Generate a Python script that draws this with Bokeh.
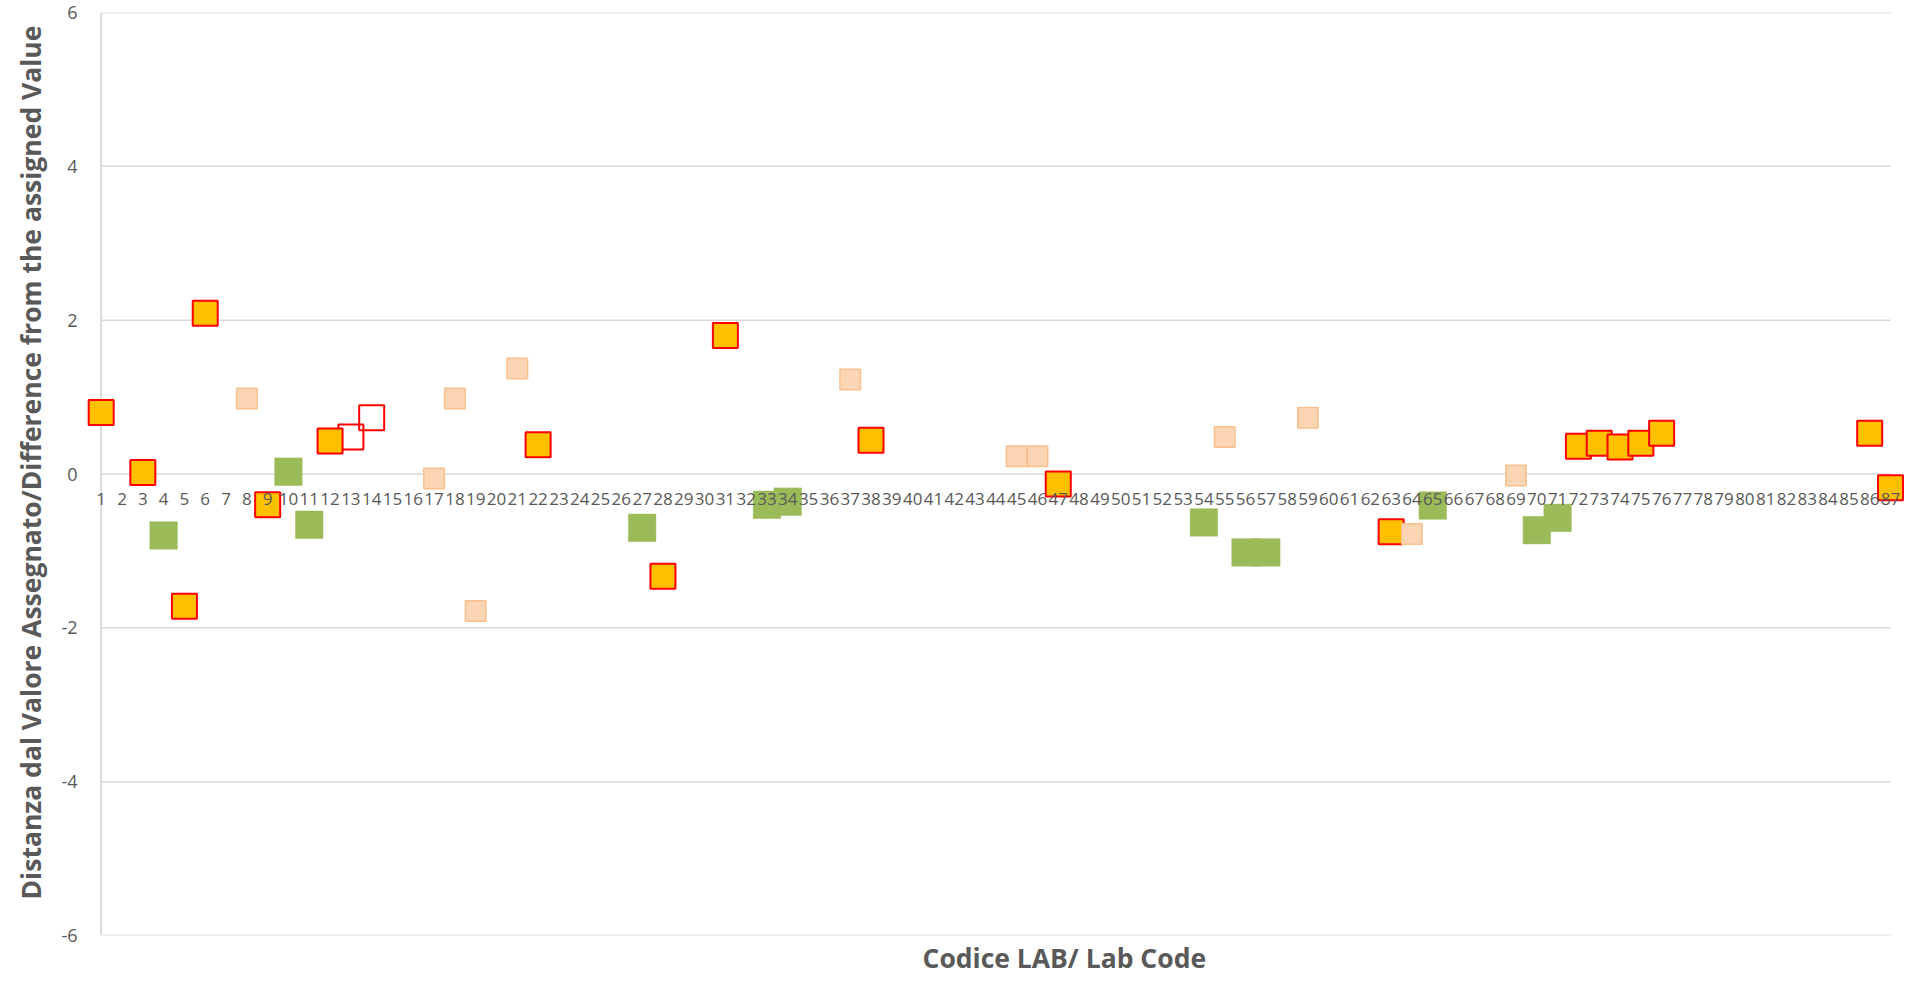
from bokeh.plotting import figure
from bokeh.models import Range1d, FixedTicker, Title
from bokeh.embed import file_html
from bokeh.resources import INLINE

# ---- data ----
lab_codes = list(range(1, 88))
y_ticks = [-6, -4, -2, 0, 2, 4, 6]

orange_lab = [1, 3, 5, 6, 9, 12, 22, 28, 31, 38, 47, 63, 72, 73, 74, 75, 76, 86, 87]
orange_val = [0.80, 0.02, -1.72, 2.09, -0.40, 0.43, 0.38, -1.33, 1.80, 0.44, -0.13,
              -0.75, 0.36, 0.40, 0.35, 0.40, 0.53, 0.53, -0.18]

peach_lab = [8, 17, 18, 19, 21, 37, 45, 46, 55, 59, 64, 69]
peach_val = [0.98, -0.06, 0.98, -1.78, 1.37, 1.23, 0.23, 0.23, 0.48, 0.73, -0.78, -0.02]

green_lab = [4, 10, 11, 27, 33, 34, 54, 56, 57, 65, 70, 71]
green_val = [-0.80, 0.03, -0.66, -0.70, -0.40, -0.36, -0.63, -1.02, -1.02, -0.41, -0.73, -0.57]

hollow_lab = [13, 14]
hollow_val = [0.48, 0.73]

x_title = "Codice LAB/ Lab Code"
y_title = "Distanza dal Valore Assegnato/Difference from the assigned Value"

TEXT = "#595959"
GRID = "#D9D9D9"
FONT = "Open Sans"

p = figure(width=1910, height=980, output_backend="svg", toolbar_location=None,
           x_range=Range1d(0.2935, 87.769), y_range=Range1d(-6, 6),
           min_border_left=86, min_border_right=4, min_border_top=12, min_border_bottom=45)
p.outline_line_color = None
p.xgrid.visible = False
p.ygrid.visible = False

# gridlines limited to the category span
xs0 = [lab_codes[0]] * len(y_ticks)
xs1 = [lab_codes[-1]] * len(y_ticks)
p.segment(x0=xs0, y0=y_ticks, x1=xs1, y1=y_ticks, line_color=GRID, line_width=1.5)
p.segment(x0=[lab_codes[0]], y0=[y_ticks[0]], x1=[lab_codes[0]], y1=[y_ticks[-1]],
          line_color=GRID, line_width=2)

# series
p.scatter(hollow_lab, hollow_val, marker="square", size=25, fill_color=None,
          line_color="#FF0000", line_width=2)
p.scatter(orange_lab, orange_val, marker="square", size=25, fill_color="#FFC000",
          line_color="#FF0000", line_width=2)
p.scatter(peach_lab, peach_val, marker="square", size=20.5, fill_color="#FCD5B5",
          line_color="#F9C08F", line_width=1.5)
p.scatter(green_lab, green_val, marker="square", size=27.5, fill_color="#9BBB59",
          line_color="#9BBB59", line_width=0.5)

# x axis at y = 0
xa = p.xaxis[0]
xa.fixed_location = 0
xa.ticker = FixedTicker(ticks=lab_codes)
xa.axis_line_color = None
xa.major_tick_line_color = None
xa.minor_tick_line_color = None
xa.major_label_text_font = FONT
xa.major_label_text_font_size = "17px"
xa.major_label_text_color = TEXT
xa.major_label_standoff = 13

ya = p.yaxis[0]
ya.ticker = FixedTicker(ticks=y_ticks)
ya.major_label_overrides = {t: str(t) for t in y_ticks}
ya.axis_line_color = None
ya.major_tick_line_color = None
ya.minor_tick_line_color = None
ya.major_label_text_font = FONT
ya.major_label_text_font_size = "18px"
ya.major_label_text_color = TEXT
ya.major_label_standoff = 3

p.add_layout(Title(text=y_title, align="left", offset=36, text_font=FONT,
                   text_font_size="26.5px", text_font_style="bold", text_color=TEXT,
                   standoff=19), "left")
p.add_layout(Title(text=x_title, align="left", offset=836, text_font=FONT,
                   text_font_size="26.5px", text_font_style="bold", text_color=TEXT,
                   standoff=4), "below")

open("out.html", "w").write(file_html(p, INLINE))
